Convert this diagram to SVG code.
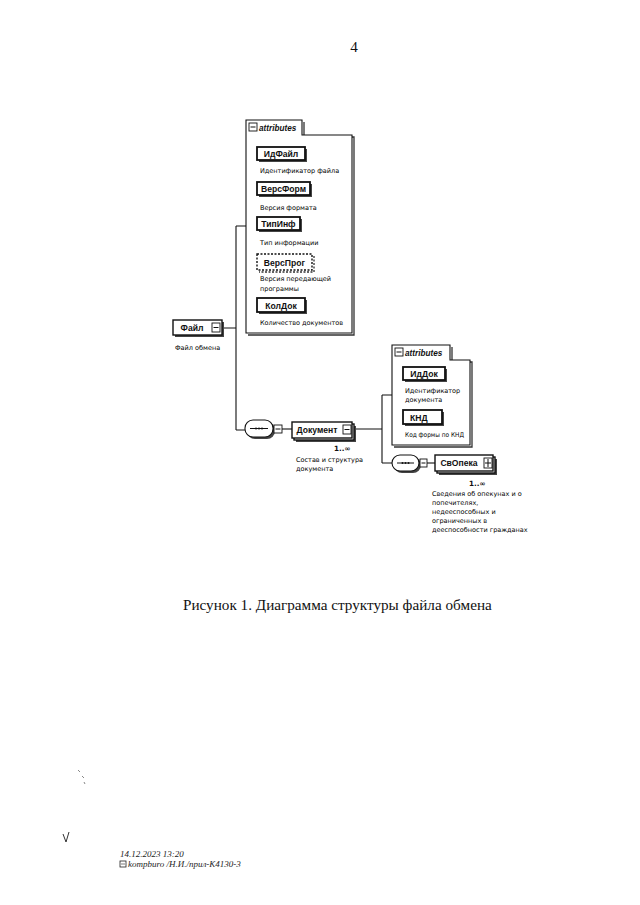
<svg xmlns="http://www.w3.org/2000/svg" width="640" height="905" viewBox="0 0 640 905">
<style>
.bg{fill:#ffffff}
.sm{font-family:"DejaVu Sans","Liberation Sans",sans-serif;font-size:6.5px;fill:#000}
.num{font-family:"DejaVu Sans","Liberation Sans",sans-serif;font-size:7.2px;font-weight:bold;fill:#111}
.bl{font-family:"Liberation Sans","DejaVu Sans",sans-serif;font-size:8.6px;font-weight:bold;fill:#111}
.it{font-family:"Liberation Sans","DejaVu Sans",sans-serif;font-size:8.2px;font-weight:bold;font-style:italic;fill:#111}
.box{fill:#fff;stroke:#111;stroke-width:1.4}
.abox{fill:#fff;stroke:#111;stroke-width:1.8}
.dbox{fill:#fff;stroke:#111;stroke-width:1.4;stroke-dasharray:2 1.5}
.sh{fill:#444;stroke:none}
.grp{fill:#fff;stroke:#111;stroke-width:1.1}
.gsh{fill:none;stroke:#333;stroke-width:1.3}
.ln{fill:none;stroke:#111;stroke-width:1.1}
.ic{fill:#fff;stroke:#111;stroke-width:0.9}
.cap{font-family:"Liberation Serif","Times New Roman",serif;font-size:15.2px;fill:#111}
.ft{font-family:"Liberation Serif","Times New Roman",serif;font-size:9px;font-style:italic;fill:#222}
</style>
<rect class="bg" x="0" y="0" width="640" height="905"/>
<text x="354" y="52" class="cap" text-anchor="middle" font-size="14">4</text>

<g id="connectors">
<path class="ln" d="M222,328 H236 M236,226 V430 M236,226 H246 M236,430 H245"/>
<path class="ln" d="M282,429 H292"/>
<path class="ln" d="M352,429 H382 M382,395 V463 M382,395 H392 M382,463 H392"/>
<path class="ln" d="M427,463 H435"/>
</g>

<g id="attributes1">
<path class="gsh" d="M304,122 V137 H354 V335 H248"/>
<path class="grp" d="M246,120 H302 V135 H352 V333 H246 Z"/>
<rect class="ic" x="249" y="123" width="8" height="8"/>
<line x1="250.5" y1="127" x2="255.5" y2="127" stroke="#111" stroke-width="1"/>
<text x="259" y="130.5" class="it">attributes</text>
</g>

<g id="ИдФайл">
<rect class="sh" x="259" y="149" width="48" height="13"/>
<rect class="abox" x="257" y="147" width="48" height="13"/>
<text x="281" y="157" class="bl" text-anchor="middle">ИдФайл</text>
<text x="260" y="173" class="sm">Идентификатор файла</text>
</g>
<g id="ВерсФорм">
<rect class="sh" x="259" y="184" width="53" height="13"/>
<rect class="abox" x="257" y="182" width="53" height="13"/>
<text x="283.5" y="192" class="bl" text-anchor="middle">ВерсФорм</text>
<text x="260" y="210" class="sm">Версия формата</text>
</g>
<g id="ТипИнф">
<rect class="sh" x="259" y="219" width="43" height="13"/>
<rect class="abox" x="257" y="217" width="43" height="13"/>
<text x="278.5" y="227" class="bl" text-anchor="middle">ТипИнф</text>
<text x="260" y="245" class="sm">Тип информации</text>
</g>
<g id="ВерсПрог">
<path class="gsh" stroke-dasharray="2 1.5" d="M314,256 V272 H259"/>
<rect class="dbox" x="257" y="254" width="55" height="16"/>
<text x="284.5" y="265.5" class="bl" text-anchor="middle">ВерсПрог</text>
<text x="260" y="281" class="sm">Версия передающей</text>
<text x="260" y="291" class="sm">программы</text>
</g>
<g id="КолДок">
<rect class="sh" x="259" y="300" width="48" height="14"/>
<rect class="abox" x="257" y="298" width="48" height="14"/>
<text x="281" y="308.5" class="bl" text-anchor="middle">КолДок</text>
<text x="260" y="325" class="sm">Количество документов</text>
</g>

<g id="Файл">
<rect class="sh" x="175" y="322" width="49" height="15"/>
<rect class="box" x="173" y="320" width="49" height="15"/>
<text x="192" y="330.5" class="bl" text-anchor="middle">Файл</text>
<rect class="ic" x="212" y="323" width="8" height="9"/>
<line x1="213.5" y1="327.5" x2="218.5" y2="327.5" stroke="#111" stroke-width="1"/>
<text x="175" y="350" class="sm">Файл обмена</text>
</g>

<g id="seq1">
<rect x="247" y="422" width="28" height="17" rx="8" class="sh"/>
<rect x="245" y="420" width="28" height="17" rx="8" class="grp"/>
<line x1="250" y1="428.5" x2="268" y2="428.5" stroke="#111" stroke-width="1"/>
<circle cx="256" cy="428.5" r="1" fill="#111"/><circle cx="259" cy="428.5" r="1" fill="#111"/><circle cx="262" cy="428.5" r="1" fill="#111"/>
<rect class="ic" x="274" y="425" width="8" height="8"/>
<line x1="275.5" y1="429" x2="280.5" y2="429" stroke="#111" stroke-width="1"/>
</g>

<g id="Документ">
<rect class="sh" x="296" y="426" width="60" height="16"/>
<rect class="box" x="294" y="424" width="60" height="16"/>
<rect class="box" x="292" y="422" width="60" height="16"/>
<text x="317" y="433" class="bl" text-anchor="middle">Документ</text>
<rect class="ic" x="343" y="425" width="8" height="9"/>
<line x1="344.5" y1="429.5" x2="349.5" y2="429.5" stroke="#111" stroke-width="1"/>
<text x="334" y="451" class="num">1..∞</text>
<text x="296" y="462" class="sm">Состав и структура</text>
<text x="296" y="471" class="sm">документа</text>
</g>

<g id="attributes2">
<path class="gsh" d="M452,347 V362 H472 V447 H394"/>
<path class="grp" d="M392,345 H450 V360 H470 V445 H392 Z"/>
<rect class="ic" x="395" y="348" width="8" height="8"/>
<line x1="396.5" y1="352" x2="401.5" y2="352" stroke="#111" stroke-width="1"/>
<text x="405" y="355.5" class="it">attributes</text>
</g>
<g id="ИдДок">
<rect class="sh" x="405" y="369" width="42" height="13"/>
<rect class="abox" x="403" y="367" width="42" height="13"/>
<text x="424" y="377" class="bl" text-anchor="middle">ИдДок</text>
<text x="405" y="393" class="sm">Идентификатор</text>
<text x="405" y="402" class="sm">документа</text>
</g>
<g id="КНД">
<rect class="sh" x="405" y="412" width="39" height="14"/>
<rect class="abox" x="403" y="410" width="39" height="14"/>
<text x="410" y="420.5" class="bl">КНД</text>
<text x="405" y="437" class="sm" textLength="59" lengthAdjust="spacingAndGlyphs">Код формы по КНД</text>
</g>

<g id="seq2">
<rect x="394" y="457" width="27" height="16" rx="8" class="sh"/>
<rect x="392" y="455" width="27" height="16" rx="8" class="grp"/>
<line x1="397" y1="463" x2="414" y2="463" stroke="#111" stroke-width="1"/>
<circle cx="402.5" cy="463" r="1" fill="#111"/><circle cx="405.5" cy="463" r="1" fill="#111"/><circle cx="408.5" cy="463" r="1" fill="#111"/>
<rect class="ic" x="420" y="459" width="7" height="8"/>
<line x1="421.5" y1="463" x2="425.5" y2="463" stroke="#111" stroke-width="1"/>
</g>

<g id="СвОпека">
<rect class="sh" x="439" y="459" width="58" height="16"/>
<rect class="box" x="437" y="457" width="58" height="16"/>
<rect class="box" x="435" y="455" width="58" height="16"/>
<text x="459" y="466" class="bl" text-anchor="middle" font-size="8">СвОпека</text>
<rect class="ic" x="484" y="458" width="8" height="10"/>
<path d="M485,463 H491 M488,459 V467" stroke="#111" stroke-width="1"/>
<text x="469" y="486" class="num">1..∞</text>
<text x="432" y="496" class="sm">Сведения об опекунах и о</text>
<text x="432" y="505" class="sm">попечителях,</text>
<text x="432" y="514" class="sm">недееспособных и</text>
<text x="432" y="523" class="sm">ограниченных в</text>
<text x="432" y="532" class="sm">дееспособности гражданах</text>
</g>

<text x="183" y="610" class="cap">Рисунок 1. Диаграмма структуры файла обмена</text>

<g id="footer">
<text x="120" y="857" class="ft">14.12.2023 13:20</text>
<rect x="120" y="861" width="6" height="6" fill="none" stroke="#222" stroke-width="0.8"/>
<line x1="121" y1="864" x2="125" y2="864" stroke="#222" stroke-width="0.6"/>
<text x="128" y="867" class="ft">kompburo /Н.И./прил-К4130-3</text>
</g>
<path d="M78,770 l2,2 M82,776 l2,2 M84,782 l1,2" stroke="#888" stroke-width="1"/>
<path d="M63,834 l3,8 l3,-10" fill="none" stroke="#333" stroke-width="1"/>
</svg>
